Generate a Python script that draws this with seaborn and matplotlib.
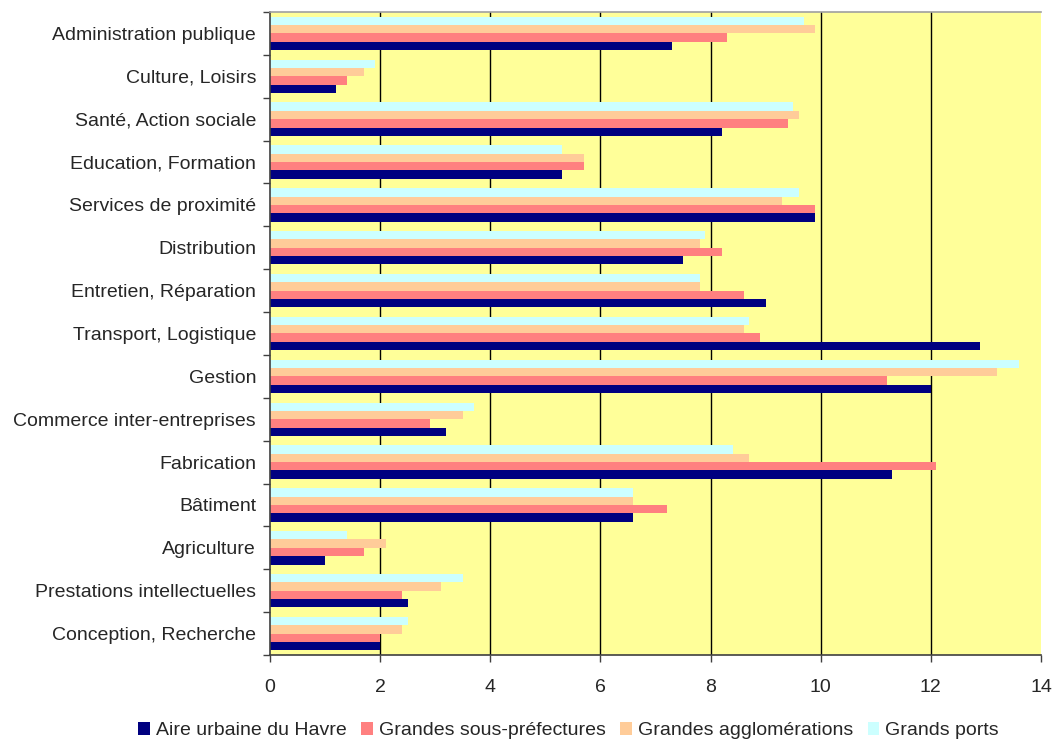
import matplotlib
matplotlib.use("Agg")
import matplotlib.pyplot as plt
from matplotlib.patches import Patch
from matplotlib.ticker import FixedLocator
import seaborn as sns
import pandas as pd

categories = [
    "Administration publique", "Culture, Loisirs", "Santé, Action sociale",
    "Education, Formation", "Services de proximité", "Distribution",
    "Entretien, Réparation", "Transport, Logistique", "Gestion",
    "Commerce inter-entreprises", "Fabrication", "Bâtiment", "Agriculture",
    "Prestations intellectuelles", "Conception, Recherche",
]
havre = [7.3, 1.2, 8.2, 5.3, 9.9, 7.5, 9.0, 12.9, 12.0, 3.2, 11.3, 6.6, 1.0, 2.5, 2.0]
sous_pref = [8.3, 1.4, 9.4, 5.7, 9.9, 8.2, 8.6, 8.9, 11.2, 2.9, 12.1, 7.2, 1.7, 2.4, 2.0]
agglos = [9.9, 1.7, 9.6, 5.7, 9.3, 7.8, 7.8, 8.6, 13.2, 3.5, 8.7, 6.6, 2.1, 3.1, 2.4]
ports = [9.7, 1.9, 9.5, 5.3, 9.6, 7.9, 7.8, 8.7, 13.6, 3.7, 8.4, 6.6, 1.4, 3.5, 2.5]

series = {
    "Aire urbaine du Havre": havre,
    "Grandes sous-préfectures": sous_pref,
    "Grandes agglomérations": agglos,
    "Grands ports": ports,
}
colors = {
    "Aire urbaine du Havre": "#000080",
    "Grandes sous-préfectures": "#FF8080",
    "Grandes agglomérations": "#FFCC99",
    "Grands ports": "#CCFFFF",
}
legend_order = list(series.keys())
bar_order = legend_order[::-1]  # ports drawn on top of each group

rows = []
for name, vals in series.items():
    for cat, v in zip(categories, vals):
        rows.append({"categorie": cat, "serie": name, "valeur": v})
df = pd.DataFrame(rows)

sns.set_theme(style="white")
plt.rcParams["font.family"] = ["Liberation Sans", "DejaVu Sans"]
FS = 14

fig = plt.figure(figsize=(10.53, 7.47), dpi=100)
ax = fig.add_axes([0.2564, 0.1232, 0.7322, 0.8607])
ax.set_facecolor("#FFFF99")

sns.barplot(
    data=df, y="categorie", x="valeur", hue="serie", order=categories,
    hue_order=bar_order, palette=colors, orient="h", width=0.78, gap=0,
    saturation=1, edgecolor="none", linewidth=0, ax=ax, legend=False,
)

ax.set_xlim(0, 14)
ax.set_ylim(len(categories) - 0.5, -0.5)
ax.set_xticks(range(0, 15, 2))
ax.xaxis.grid(True, color="black", linewidth=1)
ax.set_axisbelow(True)
gl = ax.xaxis.get_gridlines()
gl[0].set_visible(False)
gl[-1].set_visible(False)

ax.set_xlabel("")
ax.set_ylabel("")
ax.tick_params(axis="x", which="major", direction="out", length=5, width=1,
               color="#404040", labelsize=FS, pad=12, bottom=True)
ax.tick_params(axis="y", which="major", length=0, labelsize=FS, pad=10)
ax.yaxis.set_minor_locator(FixedLocator([i - 0.5 for i in range(len(categories) + 1)]))
ax.tick_params(axis="y", which="minor", direction="out", length=5, width=1,
               color="#404040", left=True)

for side in ("left", "bottom"):
    ax.spines[side].set_color("#404040")
    ax.spines[side].set_linewidth(1.2)
ax.spines["top"].set_color("#A0A0A0")
ax.spines["top"].set_linewidth(1.2)
ax.spines["right"].set_visible(False)

handles = [Patch(facecolor=colors[n], edgecolor="none", label=n) for n in legend_order]
fig.legend(handles=handles, loc="lower center", bbox_to_anchor=(0.54, -0.013), ncol=4,
           frameon=False, fontsize=FS, handlelength=0.6, handleheight=0.6,
           handletextpad=0.3, columnspacing=0.75)

fig.savefig("out.png", dpi=100)
